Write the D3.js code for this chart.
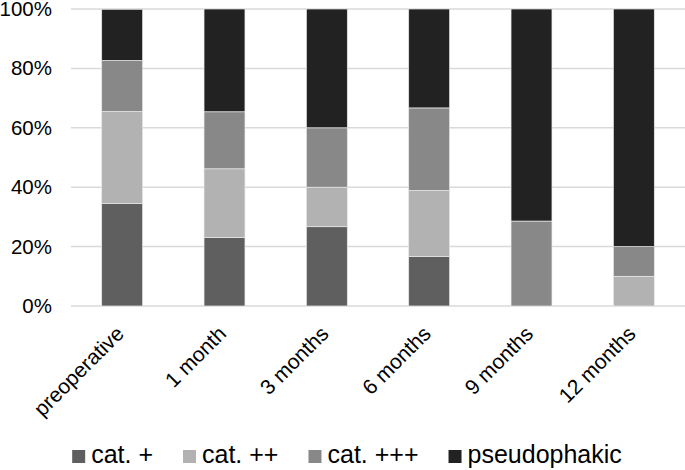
<!DOCTYPE html>
<html>
<head>
<meta charset="utf-8">
<script src="https://cdn.jsdelivr.net/npm/d3@7"></script>
<style>
  html, body { margin: 0; padding: 0; background: #fff; }
  svg { display: block; }
  text { font-family: "Liberation Sans", Arial, sans-serif; fill: #000; }
</style>
</head>
<body>
<svg id="chart" width="685" height="470"></svg>
<script>
// ---- data ----
const categories = ["preoperative", "1 month", "3 months", "6 months", "9 months", "12 months"];
const seriesNames = ["cat. +", "cat. ++", "cat. +++", "pseudophakic"];
const catPlus      = [34.5, 23.1, 26.7, 16.7, 0,    0];
const catPlusPlus  = [31.0, 23.1, 13.3, 22.2, 0,    10];
const catPlusPlusPlus = [17.2, 19.2, 20.0, 27.8, 28.6, 10];
const pseudophakic = [17.2, 34.6, 40.0, 33.3, 71.4, 80];
const yTicks = [0, 20, 40, 60, 80, 100];
const colors = ["#5f5f5f", "#b2b2b2", "#888888", "#222222"];

const seriesValues = [catPlus, catPlusPlus, catPlusPlusPlus, pseudophakic];
const rows = categories.map((c, i) => {
  const r = { category: c };
  seriesNames.forEach((s, j) => r[s] = seriesValues[j][i]);
  return r;
});

const svg = d3.select("#chart");
const margin = { left: 71, right: 0, top: 9, bottom: 164 };
const W = 685, H = 470;
const x = d3.scaleBand().domain(categories).range([margin.left, W - margin.right]).paddingInner(0.6).paddingOuter(0.3);
const y = d3.scaleLinear().domain([0, 100]).range([H - margin.bottom, margin.top]);

// gridlines
svg.append("g").selectAll("line").data(yTicks).join("line")
  .attr("x1", margin.left).attr("x2", W - margin.right)
  .attr("y1", d => y(d)).attr("y2", d => y(d))
  .attr("stroke", "#d9d9d9").attr("stroke-width", 1.5);

// y axis labels
const yAxis = d3.axisLeft(y).tickValues(yTicks).tickFormat(d => d + "%").tickSize(0).tickPadding(0);
const yg = svg.append("g").attr("transform", "translate(52,0)").call(yAxis);
yg.select(".domain").remove();
yg.selectAll("text").attr("font-size", 20.5).attr("fill", "#000")
  .style("font-family", '"Liberation Sans", Arial, sans-serif');

// stacked bars
const stack = d3.stack().keys(seriesNames);
const stacked = stack(rows);
svg.append("g").selectAll("g").data(stacked).join("g")
  .attr("fill", (d, i) => colors[i])
  .selectAll("rect").data(d => d).join("rect")
  .attr("x", d => x(d.data.category))
  .attr("width", x.bandwidth())
  .attr("y", d => y(d[1]))
  .attr("height", d => Math.max(0, y(d[0]) - y(d[1])))
  .attr("stroke", d => (d[1] - d[0]) > 0 ? "#e8e8e8" : "none")
  .attr("stroke-width", 0.7);

// x axis labels
const xAxis = d3.axisBottom(x).tickSize(0).tickPadding(0);
const xg = svg.append("g").attr("transform", `translate(0,${y(0)})`).call(xAxis);
xg.select(".domain").remove();
xg.selectAll("text")
  .attr("font-size", 21).attr("fill", "#000")
  .style("font-family", '"Liberation Sans", Arial, sans-serif')
  .attr("text-anchor", "end")
  .attr("dy", null).attr("y", null)
  .attr("transform", "translate(3,29) rotate(-45)");

// legend
const legend = svg.append("g");
const items = legend.selectAll("g").data(seriesNames).join("g");
items.append("rect").attr("width", 13).attr("height", 13).attr("y", -13)
  .attr("fill", (d, i) => colors[i]);
items.append("text").attr("x", 19).attr("y", 0).attr("font-size", 25).text(d => d);
let xpos = 0;
items.each(function() {
  const g = d3.select(this);
  g.attr("transform", `translate(${xpos},0)`);
  const tw = g.select("text").node().getComputedTextLength();
  xpos += 19 + tw + 30;
});
const totalW = xpos - 30;
legend.attr("transform", `translate(${347 - totalW / 2},463)`);
</script>
</body>
</html>
